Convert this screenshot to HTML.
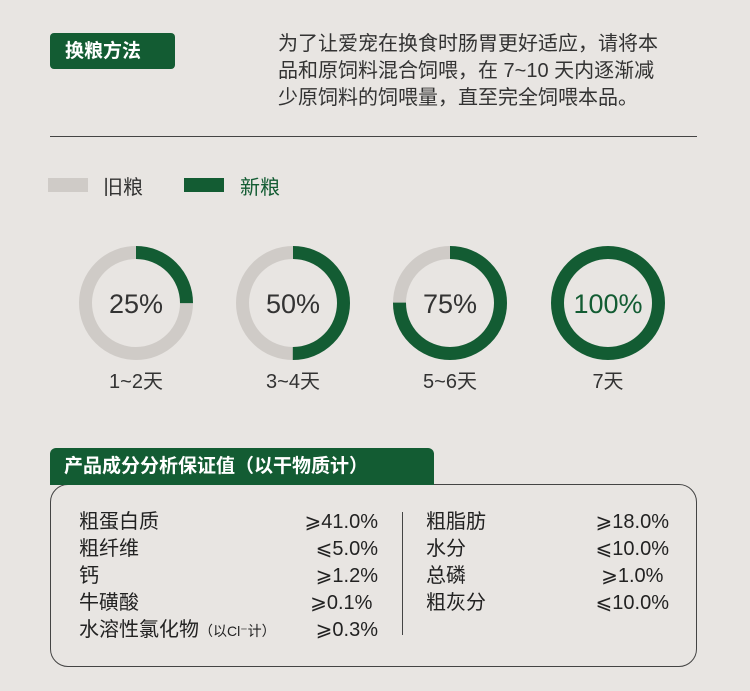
<!DOCTYPE html>
<html><head><meta charset="utf-8"><style>
body{margin:0;width:750px;height:691px;background:#e8e5e2;position:relative;overflow:hidden;font-family:"Liberation Sans","Noto Sans CJK SC",sans-serif;color:#222}
.a{position:absolute;white-space:nowrap}
.r{text-align:right}
</style></head><body>
<div class="a" style="left:50px;top:33px;width:125px;height:36px;background:#135c33;border-radius:4px;color:#fff;font-weight:bold;font-size:19px;line-height:38px;text-indent:15px">换粮方法</div>
<div class="a" style="left:278px;top:31px;font-size:20px;line-height:27px;color:#333">为了让爱宠在换食时肠胃更好适应，请将本<br>品和原饲料混合饲喂，在 7~10 天内逐渐减<br>少原饲料的饲喂量，直至完全饲喂本品。</div>
<div class="a" style="left:50px;top:136px;width:647px;height:1px;background:#444"></div>
<div class="a" style="left:48px;top:178px;width:40px;height:14px;background:#cfcbc7"></div>
<div class="a" style="left:103px;top:171px;font-size:20px;color:#333">旧粮</div>
<div class="a" style="left:184px;top:178px;width:40px;height:14px;background:#135c33"></div>
<div class="a" style="left:240px;top:171px;font-size:20px;color:#135c33">新粮</div>
<svg class="a" style="left:0;top:0" width="750" height="420">
<g fill="none" stroke-width="13">
<circle cx="136" cy="303" r="50.5" stroke="#cfcbc7"/>
<circle cx="136" cy="303" r="50.5" stroke="#135c33" stroke-dasharray="79.3 400" transform="rotate(-90 136 303)"/>
<circle cx="293" cy="303" r="50.5" stroke="#cfcbc7"/>
<circle cx="293" cy="303" r="50.5" stroke="#135c33" stroke-dasharray="158.6 400" transform="rotate(-90 293 303)"/>
<circle cx="450" cy="303" r="50.5" stroke="#cfcbc7"/>
<circle cx="450" cy="303" r="50.5" stroke="#135c33" stroke-dasharray="238 400" transform="rotate(-90 450 303)"/>
<circle cx="608" cy="303" r="50.5" stroke="#135c33"/>
</g>
<g font-size="27" text-anchor="middle" font-family="Liberation Sans,sans-serif">
<text x="136" y="313" fill="#333">25%</text><text x="293" y="313" fill="#333">50%</text><text x="450" y="313" fill="#333">75%</text><text x="608" y="313" fill="#135c33">100%</text>
</g>
<g font-size="20" text-anchor="middle" fill="#333" font-family="Liberation Sans,Noto Sans CJK SC,sans-serif">
<text x="136" y="388">1~2天</text><text x="293" y="388">3~4天</text><text x="450" y="388">5~6天</text><text x="608" y="388">7天</text>
</g>
</svg>
<div class="a" style="left:50px;top:484px;width:645px;height:181px;border:1.5px solid #444;border-radius:18px"></div>
<div class="a" style="left:50px;top:448px;width:384px;height:37px;background:#135c33;border-radius:6px 6px 0 0;color:#fff;font-weight:bold;font-size:19px;line-height:38px;text-indent:14px">产品成分分析保证值（以干物质计）</div>
<div class="a" style="left:402px;top:512px;width:1px;height:123px;background:#444"></div>
<div class="a" style="left:79px;top:509px;font-size:20px;line-height:27px">粗蛋白质<br>粗纤维<br>钙<br>牛磺酸<br>水溶性氯化物<span style="font-size:14px">（以Cl⁻计）</span></div>
<div class="a r" style="left:250px;width:128px;top:509px;font-size:20px;line-height:27px">⩾41.0%<br>⩽5.0%<br>⩾1.2%<br>⩾0.1%&nbsp;<br>⩾0.3%</div>
<div class="a" style="left:426px;top:509px;font-size:20px;line-height:27px">粗脂肪<br>水分<br>总磷<br>粗灰分</div>
<div class="a r" style="left:540px;width:129px;top:509px;font-size:20px;line-height:27px">⩾18.0%<br>⩽10.0%<br>⩾1.0%&nbsp;<br>⩽10.0%</div>
</body></html>
